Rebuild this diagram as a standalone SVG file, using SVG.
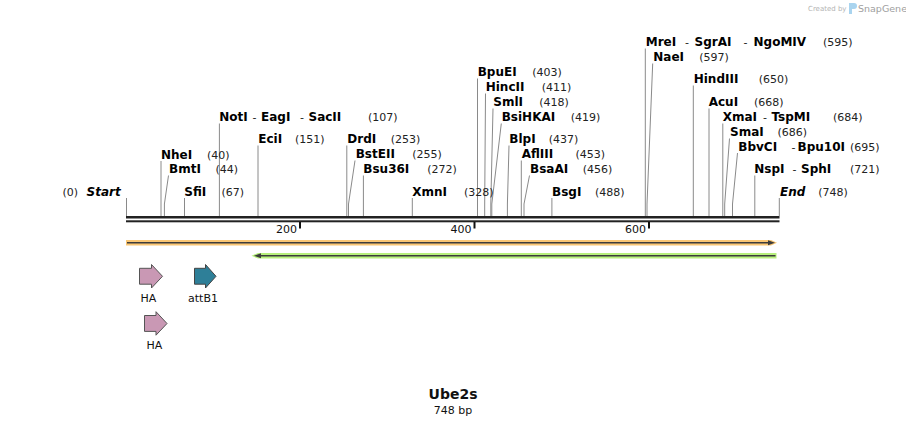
<svg xmlns="http://www.w3.org/2000/svg" width="906" height="426" viewBox="0 0 906 426">
<style>
.b{font-family:"DejaVu Sans",Verdana,sans-serif;font-weight:bold;font-size:12px;fill:#000}
.bi{font-family:"DejaVu Sans",Verdana,sans-serif;font-weight:bold;font-style:italic;font-size:12px;fill:#000}
.n{font-family:"DejaVu Sans",Verdana,sans-serif;font-size:11px;fill:#222}
.t{font-family:"DejaVu Sans",Verdana,sans-serif;font-size:11px;fill:#111}
.ln{fill:none;stroke:#8a8a8a;stroke-width:1}
.tick{stroke:#111;stroke-width:2}
.ha{fill:#c998b4;stroke:#555;stroke-width:1}
.att{fill:#2e7f98;stroke:#444;stroke-width:1}
</style>
<rect width="906" height="426" fill="#fff"/>
<g id="logo">
<text x="808" y="10.5" style="font-family:'DejaVu Sans',sans-serif;font-size:7px;fill:#b4b4b4">Created by</text>
<path d="M849,3 h5 a3,3 0 0 1 0,6 h-2 v5 h-3 z" fill="#a9d4ef"/>
<text x="858" y="11.5" style="font-family:'DejaVu Sans',sans-serif;font-size:9.5px;fill:#a0a0a0">SnapGene</text>
</g>
<g id="connectors">
<line class="ln" x1="126.5" y1="198" x2="126.5" y2="216"/>
<line class="ln" x1="161" y1="161" x2="161" y2="216"/>
<polyline class="ln" points="168.5,175.5 164.4,204 164.4,216"/>
<line class="ln" x1="184.5" y1="198" x2="184.5" y2="216"/>
<line class="ln" x1="219.4" y1="123.5" x2="219.4" y2="216"/>
<line class="ln" x1="258" y1="145.5" x2="258" y2="216"/>
<line class="ln" x1="346.8" y1="145.5" x2="346.8" y2="216"/>
<polyline class="ln" points="355,160.5 348.5,204 348.5,216"/>
<line class="ln" x1="363.4" y1="175.5" x2="363.4" y2="216"/>
<line class="ln" x1="412.3" y1="198" x2="412.3" y2="216"/>
<line class="ln" x1="477.5" y1="78.5" x2="477.5" y2="216"/>
<polyline class="ln" points="485.5,93.5 484.7,204 484.7,216"/>
<polyline class="ln" points="493,108.5 490.8,204 490.8,216"/>
<polyline class="ln" points="501.3,123.5 491.8,204 491.8,216"/>
<polyline class="ln" points="509,145.5 507.4,204 507.4,216"/>
<line class="ln" x1="521.3" y1="160.5" x2="521.3" y2="216"/>
<polyline class="ln" points="529.5,175.5 524,204 524,216"/>
<line class="ln" x1="551.9" y1="198" x2="551.9" y2="216"/>
<line class="ln" x1="645.3" y1="48.5" x2="645.3" y2="216"/>
<polyline class="ln" points="652.7,63.5 647,204 647,216"/>
<line class="ln" x1="693.3" y1="85.5" x2="693.3" y2="216"/>
<line class="ln" x1="709" y1="108.5" x2="709" y2="216"/>
<line class="ln" x1="722.8" y1="123.5" x2="722.8" y2="216"/>
<polyline class="ln" points="729.5,138.5 724.7,204 724.7,216"/>
<polyline class="ln" points="737.5,153 732.5,204 732.5,216"/>
<line class="ln" x1="754.8" y1="175.5" x2="754.8" y2="216"/>
<line class="ln" x1="779.3" y1="198" x2="779.3" y2="216"/>
</g>
<g id="ruler">
<rect x="126" y="216" width="653.5" height="2.5" fill="#222"/>
<rect x="126" y="220.3" width="653.5" height="2" fill="#222"/>
<line class="tick" x1="300" y1="222" x2="300" y2="228.5"/>
<line class="tick" x1="474.5" y1="222" x2="474.5" y2="228.5"/>
<line class="tick" x1="649" y1="222" x2="649" y2="228.5"/>
<text class="t" x="297" y="232.5" text-anchor="end">200</text>
<text class="t" x="471.5" y="232.5" text-anchor="end">400</text>
<text class="t" x="646" y="232.5" text-anchor="end">600</text>
</g>
<g id="site-start"><text class="n" x="62.5" y="195.5">(0)</text><text class="bi" x="86.5" y="195.5">Start</text></g>
<g id="site-NheI"><text class="b" x="161" y="158.5">NheI</text><text class="n" x="207" y="158.5">(40)</text></g>
<g id="site-BmtI"><text class="b" x="169" y="172.7">BmtI</text><text class="n" x="215.5" y="172.7">(44)</text></g>
<g id="site-SfiI"><text class="b" x="184.3" y="195.5">SfiI</text><text class="n" x="221.5" y="195.5">(67)</text></g>
<g id="site-NotI"><text class="b" x="219.3" y="120.7">NotI</text><text class="n" x="252.5" y="120.7">-</text><text class="b" x="261" y="120.7">EagI</text><text class="n" x="300" y="120.7">-</text><text class="b" x="308.5" y="120.7">SacII</text><text class="n" x="368" y="120.7">(107)</text></g>
<g id="site-EciI"><text class="b" x="258.3" y="142.7">EciI</text><text class="n" x="295" y="142.7">(151)</text></g>
<g id="site-DrdI"><text class="b" x="347.3" y="143">DrdI</text><text class="n" x="390.7" y="143">(253)</text></g>
<g id="site-BstEII"><text class="b" x="355.7" y="157.7">BstEII</text><text class="n" x="412.3" y="157.7">(255)</text></g>
<g id="site-Bsu36I"><text class="b" x="363.3" y="172.7">Bsu36I</text><text class="n" x="427.3" y="172.7">(272)</text></g>
<g id="site-XmnI"><text class="b" x="412.3" y="195.7">XmnI</text><text class="n" x="464" y="195.7">(328)</text></g>
<g id="site-BpuEI"><text class="b" x="477.7" y="76">BpuEI</text><text class="n" x="532.3" y="76">(403)</text></g>
<g id="site-HincII"><text class="b" x="485.7" y="91">HincII</text><text class="n" x="541.7" y="91">(411)</text></g>
<g id="site-SmlI"><text class="b" x="493.3" y="106">SmlI</text><text class="n" x="539.3" y="106">(418)</text></g>
<g id="site-BsiHKAI"><text class="b" x="501.7" y="121">BsiHKAI</text><text class="n" x="570.7" y="121">(419)</text></g>
<g id="site-BlpI"><text class="b" x="509.3" y="143">BlpI</text><text class="n" x="548.7" y="143">(437)</text></g>
<g id="site-AflIII"><text class="b" x="521.7" y="157.7">AflIII</text><text class="n" x="575.5" y="157.7">(453)</text></g>
<g id="site-BsaAI"><text class="b" x="530" y="172.7">BsaAI</text><text class="n" x="582.7" y="172.7">(456)</text></g>
<g id="site-BsgI"><text class="b" x="552" y="195.7">BsgI</text><text class="n" x="595" y="195.7">(488)</text></g>
<g id="site-MreI"><text class="b" x="645.7" y="46">MreI</text><text class="n" x="685" y="46">-</text><text class="b" x="694.5" y="46">SgrAI</text><text class="n" x="743.5" y="46">-</text><text class="b" x="753.5" y="46">NgoMIV</text><text class="n" x="823" y="46">(595)</text></g>
<g id="site-NaeI"><text class="b" x="653.3" y="61">NaeI</text><text class="n" x="699.3" y="61">(597)</text></g>
<g id="site-HindIII"><text class="b" x="693.7" y="83">HindIII</text><text class="n" x="758.7" y="83">(650)</text></g>
<g id="site-AcuI"><text class="b" x="708.7" y="106">AcuI</text><text class="n" x="754" y="106">(668)</text></g>
<g id="site-XmaI"><text class="b" x="722.7" y="121">XmaI</text><text class="n" x="763" y="121">-</text><text class="b" x="771.5" y="121">TspMI</text><text class="n" x="833" y="121">(684)</text></g>
<g id="site-SmaI"><text class="b" x="730" y="135.7">SmaI</text><text class="n" x="777.5" y="135.7">(686)</text></g>
<g id="site-BbvCI"><text class="b" x="738.3" y="150.5">BbvCI</text><text class="n" x="791.5" y="150.5">-</text><text class="b" x="797.5" y="150.5">Bpu10I</text><text class="n" x="850" y="150.5">(695)</text></g>
<g id="site-NspI"><text class="b" x="754.3" y="172.7">NspI</text><text class="n" x="792.5" y="172.7">-</text><text class="b" x="801" y="172.7">SphI</text><text class="n" x="850" y="172.7">(721)</text></g>
<g id="site-end"><text class="bi" x="780" y="195.7">End</text><text class="n" x="818.3" y="195.7">(748)</text></g>
<g id="feature-orange">
<path d="M126,240 H771 L777,242.7 L771,245.4 H126 Z" fill="#fac673"/>
<line x1="127" y1="242.7" x2="769" y2="242.7" stroke="#3c3c3c" stroke-width="1.6"/>
<path d="M768,240.2 L775,242.7 L768,245.2 Z" fill="#3c3c3c"/>
</g>
<g id="feature-green">
<path d="M776.5,253 V258.6 H258 L251.5,255.8 L258,253 Z" fill="#b7f07c"/>
<line x1="259" y1="255.8" x2="775.5" y2="255.8" stroke="#3c3c3c" stroke-width="1.6"/>
<path d="M261,253.3 L254,255.8 L261,258.3 Z" fill="#3c3c3c"/>
</g>
<g id="feature-HA1">
<path class="ha" d="M139.5,268.3 H151.5 V264.5 L162.5,276.3 L151.5,288 V284.2 H139.5 Z"/>
<text class="t" x="148.5" y="301.5" text-anchor="middle">HA</text>
</g>
<g id="feature-attB1">
<path class="att" d="M194.5,268.3 H205.5 V264.5 L216,276.3 L205.5,288 V284.2 H194.5 Z"/>
<text class="t" x="203" y="301.5" text-anchor="middle">attB1</text>
</g>
<g id="feature-HA2">
<path class="ha" d="M144.5,315.5 H156 V311.7 L167,323.5 L156,335.2 V331.4 H144.5 Z"/>
<text class="t" x="154.5" y="348.5" text-anchor="middle">HA</text>
</g>
<g id="title">
<text x="453" y="399" text-anchor="middle" style="font-family:'DejaVu Sans',Verdana,sans-serif;font-weight:bold;font-size:14px;fill:#111">Ube2s</text>
<text x="453" y="413.5" text-anchor="middle" style="font-family:'DejaVu Sans',Verdana,sans-serif;font-size:11px;fill:#111">748 bp</text>
</g>
</svg>
